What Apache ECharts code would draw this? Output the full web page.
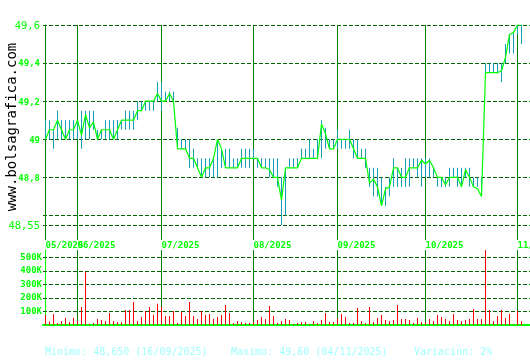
<!DOCTYPE html>
<html>
<head>
<meta charset="utf-8">
<script src="https://cdn.jsdelivr.net/npm/echarts@6/dist/echarts.min.js"></script>
<style>html,body{margin:0;padding:0;background:#fff;}#c{width:530px;height:360px;}</style>
</head>
<body>
<div id="c"></div>
<script>
// ---- data ----
const dates = [
"2025-05-21","2025-05-22","2025-05-23","2025-05-26","2025-05-27","2025-05-28","2025-05-29","2025-05-30",
"2025-06-02","2025-06-03","2025-06-04","2025-06-05","2025-06-06","2025-06-09","2025-06-10","2025-06-11","2025-06-12","2025-06-13",
"2025-06-16","2025-06-17","2025-06-18","2025-06-19","2025-06-20","2025-06-23","2025-06-24","2025-06-25","2025-06-26","2025-06-27","2025-06-30",
"2025-07-01","2025-07-02","2025-07-03","2025-07-04","2025-07-07","2025-07-08","2025-07-09","2025-07-10","2025-07-11",
"2025-07-14","2025-07-15","2025-07-16","2025-07-17","2025-07-18","2025-07-21","2025-07-22","2025-07-23","2025-07-24","2025-07-25",
"2025-07-28","2025-07-29","2025-07-30","2025-07-31",
"2025-08-01","2025-08-04","2025-08-05","2025-08-06","2025-08-07","2025-08-08","2025-08-11","2025-08-12","2025-08-13","2025-08-14","2025-08-15",
"2025-08-18","2025-08-19","2025-08-20","2025-08-21","2025-08-22","2025-08-25","2025-08-26","2025-08-27","2025-08-28","2025-08-29",
"2025-09-01","2025-09-02","2025-09-03","2025-09-04","2025-09-05","2025-09-08","2025-09-09","2025-09-10","2025-09-11","2025-09-12",
"2025-09-15","2025-09-16","2025-09-17","2025-09-18","2025-09-19","2025-09-22","2025-09-23","2025-09-24","2025-09-25","2025-09-26",
"2025-09-29","2025-09-30",
"2025-10-01","2025-10-02","2025-10-03","2025-10-06","2025-10-07","2025-10-08","2025-10-09","2025-10-10","2025-10-13","2025-10-14",
"2025-10-15","2025-10-16","2025-10-17","2025-10-20","2025-10-21","2025-10-22","2025-10-23","2025-10-24","2025-10-27","2025-10-28",
"2025-10-29","2025-10-30","2025-10-31",
"2025-11-03","2025-11-04"
];
const closePrice = [
49.0,49.05,49.05,49.1,49.05,49.0,49.05,49.05,49.1,49.02,
49.13,49.06,49.09,49.0,49.05,49.05,49.05,49.0,49.05,49.1,
49.1,49.1,49.1,49.15,49.15,49.2,49.2,49.2,49.24,49.2,
49.2,49.24,49.2,48.95,48.95,48.95,48.9,48.9,48.85,48.8,
48.85,48.85,48.9,49.0,48.95,48.85,48.85,48.85,48.85,48.9,
48.9,48.9,48.9,48.9,48.85,48.85,48.84,48.8,48.8,48.68,
48.85,48.85,48.85,48.85,48.9,48.9,48.9,48.9,48.9,49.08,
49.03,48.95,48.95,49.0,49.0,49.0,49.0,48.95,48.9,48.9,
48.9,48.77,48.79,48.75,48.65,48.74,48.75,48.85,48.85,48.8,
48.8,48.85,48.85,48.85,48.89,48.87,48.89,48.85,48.8,48.8,
48.76,48.8,48.8,48.8,48.75,48.84,48.8,48.75,48.74,48.7,
49.35,49.35,49.35,49.35,49.36,49.43,49.55,49.56,49.6,49.6
];
const highPrice = [
49.1,49.1,49.05,49.15,49.1,49.1,49.1,49.1,49.1,49.15,
49.15,49.15,49.15,49.05,49.05,49.1,49.1,49.1,49.1,49.1,
49.15,49.15,49.15,49.2,49.2,49.2,49.2,49.2,49.3,49.3,
49.25,49.25,49.25,49.06,49.0,49.0,49.0,48.95,48.9,48.9,
48.9,48.9,48.9,49.0,48.95,48.95,48.95,48.9,48.9,48.95,
48.95,48.95,48.95,48.9,48.9,48.9,48.9,48.9,48.9,48.8,
48.85,48.9,48.9,48.9,48.95,48.95,49.0,48.95,49.0,49.1,
49.06,49.0,49.0,49.05,49.0,49.0,49.05,49.0,49.0,48.95,
48.95,48.85,48.85,48.85,48.8,48.75,48.8,48.9,48.85,48.85,
48.9,48.9,48.9,48.9,48.9,48.9,48.9,48.85,48.8,48.8,
48.8,48.85,48.85,48.85,48.85,48.85,48.85,48.8,48.8,48.8,
49.4,49.4,49.4,49.4,49.4,49.5,49.55,49.56,49.6,49.6
];
const lowPrice = [
49.0,49.0,48.95,49.0,49.0,49.0,49.0,49.0,49.0,48.95,
49.0,49.0,49.05,49.0,49.0,49.0,49.0,49.0,49.0,49.05,
49.05,49.05,49.05,49.1,49.15,49.15,49.15,49.15,49.2,49.15,
49.2,49.2,49.2,48.95,48.95,48.95,48.85,48.85,48.85,48.8,
48.8,48.8,48.8,48.8,48.85,48.85,48.85,48.85,48.85,48.85,
48.85,48.85,48.9,48.85,48.85,48.85,48.8,48.8,48.75,48.55,
48.6,48.85,48.85,48.85,48.9,48.9,48.9,48.9,48.9,48.9,
48.95,48.95,48.95,48.95,48.95,48.95,48.95,48.9,48.9,48.9,
48.85,48.75,48.7,48.7,48.65,48.65,48.7,48.75,48.75,48.75,
48.75,48.75,48.85,48.8,48.75,48.8,48.8,48.8,48.75,48.75,
48.75,48.75,48.8,48.75,48.75,48.8,48.75,48.75,48.75,48.7,
49.35,49.35,49.35,49.35,49.3,49.4,49.45,49.45,49.55,49.5
];
const volumeK = [
74,25,81,15,30,52,22,52,30,133,
393,7,15,44,37,30,89,30,22,22,
111,111,170,30,59,104,133,74,156,133,
67,67,104,15,96,67,170,67,44,104,
74,81,44,59,74,148,89,15,30,22,
15,15,22,37,59,44,141,67,15,30,
44,37,7,15,22,22,7,30,15,37,
89,22,22,44,81,59,15,15,126,30,
15,133,22,52,74,37,30,37,148,44,
44,37,15,52,22,20,44,30,74,59,
44,30,81,37,30,37,44,119,44,44,
560,111,30,67,111,52,81,3,104,30
];
const priceTickLabels = [49.6, 49.4, 49.2, 49.0, 48.8, 48.55];
const priceGridLines = [49.6, 49.4, 49.2, 49.0, 48.8, 48.6, 48.55];
const volumeTicksK = [100, 200, 300, 400, 500];
const footerTexts = ["Minimo: 48,650 (16/09/2025)", "Maximo: 49,60 (04/11/2025)", "Variación: 2%"];
const watermark = "www.bolsagrafica.com";

// ---- derived ----
const monthStart = [];
const monthLabel = {};
dates.forEach((d, i) => {
  const m = d.slice(5, 7);
  if (i === 0 || m !== dates[i - 1].slice(5, 7)) {
    monthStart.push(i);
    monthLabel[i] = m + '/' + d.slice(0, 4);
  }
});
// split month labels over two axes so that overlapping neighbours are both drawn
const monthLabelsA = monthStart.filter((v, k) => k % 2 === 0);
const monthLabelsB = monthStart.filter((v, k) => k % 2 === 1);

const XMIN = -0.625, XMAX = 121.125;
const MONO = '"DejaVu Sans Mono", monospace';
const GREEN = '#00ff00';
const DARK = '#006400';
const MONTH = '#008000';

const chart = echarts.init(document.getElementById('c'), null, {renderer: 'canvas'});

const priceMarks = priceGridLines.map(v => ({yAxis: v, lineStyle: {type: [4, 2], color: DARK, width: 1}}))
  .concat(monthStart.map(i => ({xAxis: i, lineStyle: {type: 'solid', color: MONTH, width: 1}})));
const volMarks = volumeTicksK.map(v => ({yAxis: v, lineStyle: {type: [4, 2], color: DARK, width: 1}}))
  .concat(monthStart.filter(i => i > 0).map(i => ({xAxis: i, lineStyle: {type: 'solid', color: MONTH, width: 1}})));

function monthAxis(values) {
  return {gridIndex: 0, type: 'value', min: XMIN, max: XMAX, position: 'bottom', offset: 0,
    axisLine: {show: false}, axisTick: {show: false}, splitLine: {show: false},
    axisLabel: {show: true, customValues: values, formatter: v => monthLabel[v] || '',
      align: 'left', margin: 1, color: GREEN, fontFamily: MONO, fontSize: 9, fontWeight: 'bold',
      hideOverlap: false, showMinLabel: true, showMaxLabel: true}};
}

const option = {
  animation: false,
  backgroundColor: '#ffffff',
  grid: [
    {left: 43, top: 25, width: 487, height: 215, containLabel: false, outerBoundsMode: 'none'},
    {left: 43, top: 250, width: 487, height: 75, containLabel: false, outerBoundsMode: 'none'}
  ],
  xAxis: [
    monthAxis(monthLabelsA),
    {gridIndex: 1, type: 'value', min: XMIN, max: XMAX, position: 'bottom',
     axisLine: {show: true, onZero: false, lineStyle: {color: GREEN, width: 2}},
     axisTick: {show: false}, splitLine: {show: false}, axisLabel: {show: false}},
    monthAxis(monthLabelsB)
  ],
  yAxis: [
    {gridIndex: 0, type: 'value', min: 48.471, max: 49.6,
     axisLine: {show: true, lineStyle: {color: GREEN, width: 1}},
     axisTick: {show: false}, splitLine: {show: false},
     axisLabel: {show: true, customValues: priceTickLabels, margin: 3,
       showMinLabel: true, showMaxLabel: true, hideOverlap: false,
       formatter: v => {
         const s = String(Math.round(v * 100) / 100).replace('.', ',');
         return (Math.abs(v - 49.6) < 1e-6 || Math.abs(v - 48.55) < 1e-6) ? '{b|' + s + '}' : '{s|' + s + '}';
       },
       rich: {
         b: {fontFamily: MONO, fontSize: 10.5, color: GREEN, padding: [3, 0, 0, 0]},
         s: {fontFamily: MONO, fontSize: 9, fontWeight: 'bold', color: GREEN, padding: [2, 0, 0, 0]}
       }}},
    {gridIndex: 1, type: 'value', min: 0, max: 553.5,
     axisLine: {show: true, lineStyle: {color: GREEN, width: 1}},
     axisTick: {show: false}, splitLine: {show: false},
     axisLabel: {show: true, customValues: volumeTicksK, margin: 1, formatter: v => v + 'K',
       color: GREEN, fontFamily: MONO, fontSize: 9, fontWeight: 'bold', hideOverlap: false}}
  ],
  series: [
    {
      type: 'custom', xAxisIndex: 0, yAxisIndex: 0, z: 2,
      data: dates.map((d, i) => [i, lowPrice[i], highPrice[i]]),
      encode: {x: 0, y: [1, 2]},
      renderItem: (params, api) => {
        const x = api.value(0);
        const p1 = api.coord([x, api.value(1)]);
        const p2 = api.coord([x, api.value(2)]);
        return {type: 'line', shape: {x1: p1[0], y1: p1[1], x2: p2[0], y2: p2[1]},
                style: {stroke: '#14a0b4', lineWidth: 1}};
      }
    },
    {
      type: 'line', xAxisIndex: 0, yAxisIndex: 0, z: 3,
      data: dates.map((d, i) => [i, closePrice[i]]),
      showSymbol: false, symbol: 'none',
      lineStyle: {color: GREEN, width: 1.2},
      markLine: {silent: true, symbol: ['none', 'none'], label: {show: false}, z: 1, animation: false, data: priceMarks}
    },
    {
      type: 'bar', xAxisIndex: 1, yAxisIndex: 1, z: 3,
      data: dates.map((d, i) => [i, volumeK[i]]),
      barWidth: 1,
      itemStyle: {color: '#ff0000'},
      markLine: {silent: true, symbol: ['none', 'none'], label: {show: false}, z: 1, animation: false, data: volMarks}
    }
  ],
  graphic: [
    {type: 'text', x: 12, y: 127, rotation: Math.PI / 2,
     style: {text: watermark, fill: '#000000', font: '14px ' + MONO, align: 'center', verticalAlign: 'middle'}},
    {type: 'text', x: 45, y: 352, style: {text: footerTexts[0], fill: '#a0ffff', font: '10px ' + MONO, verticalAlign: 'middle'}},
    {type: 'text', x: 231, y: 352, style: {text: footerTexts[1], fill: '#a0ffff', font: '10px ' + MONO, verticalAlign: 'middle'}},
    {type: 'text', x: 414, y: 352, style: {text: footerTexts[2], fill: '#a0ffff', font: '10px ' + MONO, verticalAlign: 'middle'}}
  ]
};
chart.setOption(option);
</script>
</body>
</html>
